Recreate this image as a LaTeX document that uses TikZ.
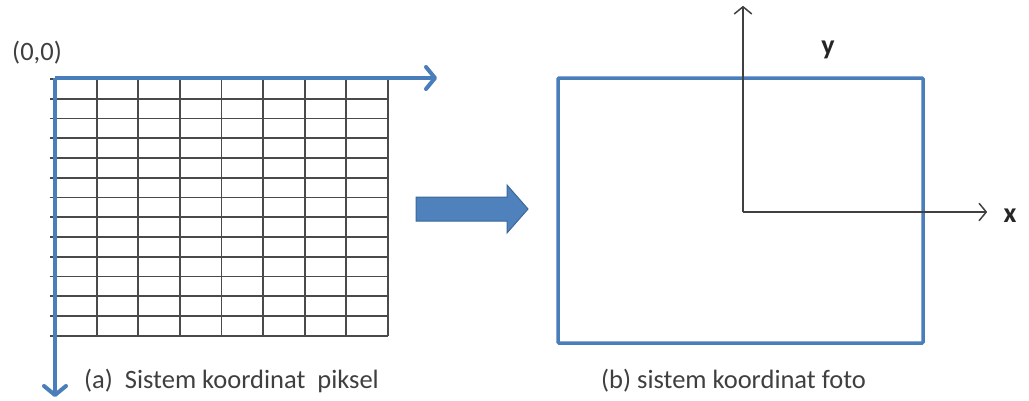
\documentclass[tikz,border=0pt]{standalone}
\usepackage{fontspec}
\setmainfont{Carlito}
\usetikzlibrary{arrows.meta}
\definecolor{axisblue}{HTML}{4A7EBB}
\definecolor{arrowfill}{HTML}{4F81BD}
\definecolor{arrowedge}{HTML}{3C6798}
\definecolor{gridline}{HTML}{4A4A4A}
\definecolor{labelgray}{HTML}{3F3F3F}
\definecolor{axisgray}{HTML}{404040}
\begin{document}
\begin{tikzpicture}[x=1pt,y=-1pt,
  gridrule/.style={gridline,line width=1.8pt},
  blueaxis/.style={axisblue,line width=4pt,
    -{Straight Barb[length=9pt,width=22pt,line width=4pt,round]}},
  blackaxis/.style={axisgray,line width=1.5pt,
    -{Straight Barb[length=7pt,width=17pt,line width=1.5pt,round]}},
  caption/.style={text=labelgray,inner sep=0pt,font=\fontsize{26.5}{30}\selectfont},
  axislabel/.style={text=black!85,inner sep=0pt,font=\bfseries\fontsize{28}{32}\selectfont},
  photoframe/.style={draw=axisblue,line width=3.5pt,rounded corners=1pt,
    minimum width=365pt,minimum height=265pt,inner sep=0pt},
  blockarrow/.style={fill=arrowfill,draw=arrowedge,line width=1pt,line join=miter}
]
\useasboundingbox (0,0) rectangle (1029,400);

% ---- (a) pixel grid ----
\foreach \i in {0,...,13}
  \draw[gridrule] (50,{79+\i*19.75}) -- (388,{79+\i*19.75});
\foreach \j in {1,...,8}
  \draw[gridrule] ({55+\j*41.6},79) -- ({55+\j*41.6},336);

\coordinate (O) at (55,78);
\coordinate (Ox) at (437,78);
\coordinate (Oy) at (55,397);
\draw[blueaxis] (O) -- (Ox);
\draw[blueaxis] (O) -- (Oy);

\node[caption] (origin) at (37,53) {(0,0)};
\node[caption,anchor=west] (capa) at (84,381) {(a)\ \ Sistem koordinat\ \ piksel};

% ---- transition arrow ----
\draw[blockarrow] (416,197) -- (507,197) -- (507,185) -- (528,209)
  -- (507,233) -- (507,221) -- (416,221) -- cycle;

% ---- (b) photo coordinate system ----
\node[photoframe] (photo) at (740.5,210.5) {};
\coordinate (P) at (743,212);
\coordinate (Px) at (987,212);
\coordinate (Py) at (743,6);
\draw[blackaxis] (P) -- (Px);
\draw[blackaxis] (P) -- (Py);

\node[axislabel] (ylab) at (828,50) {y};
\node[axislabel] (xlab) at (1010,216) {x};
\node[caption,anchor=west] (capb) at (601,381) {(b) sistem koordinat foto};
\end{tikzpicture}
\end{document}
